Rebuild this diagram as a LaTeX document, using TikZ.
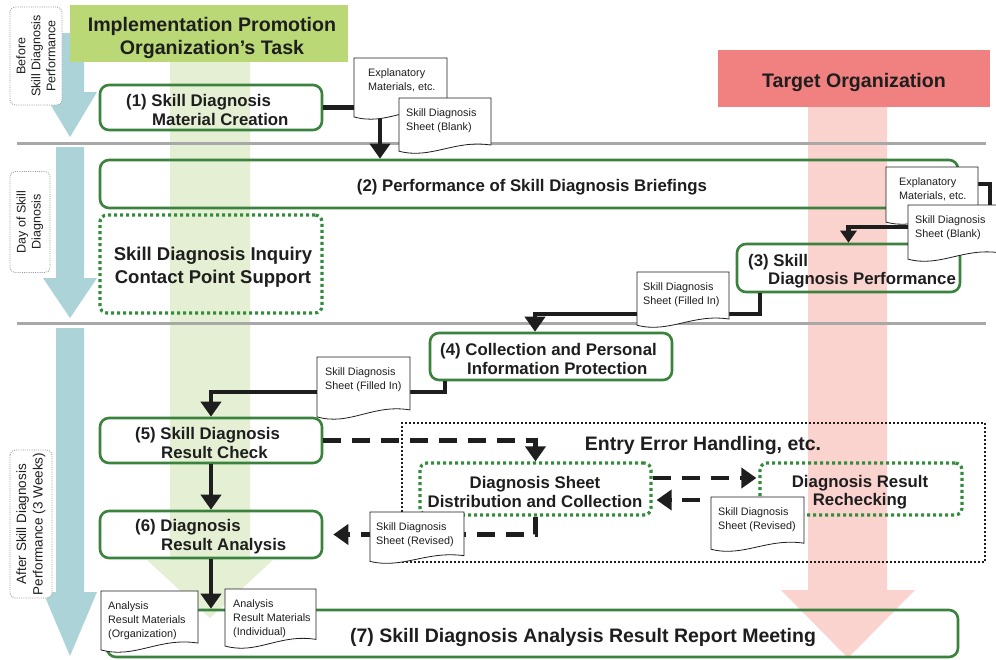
\documentclass[tikz,border=0pt]{standalone}
\usepackage{fontspec}
\setmainfont{Liberation Sans}
\usetikzlibrary{arrows.meta}

\definecolor{ink}{RGB}{30,30,30}
\definecolor{boxgreen}{RGB}{58,130,62}
\definecolor{dotgreen}{RGB}{50,140,60}
\definecolor{hdrgreen}{RGB}{186,216,118}
\definecolor{colgreen}{RGB}{229,239,211}
\definecolor{hdrred}{RGB}{241,128,128}
\definecolor{colpink}{RGB}{250,210,206}
\definecolor{phaseblue}{RGB}{172,212,216}
\definecolor{sepgray}{RGB}{168,168,168}

\newcommand\boxfont{\fontsize{16.8}{18.5}\selectfont\bfseries}
\newcommand\bigfont{\fontsize{19.5}{22}\selectfont\bfseries}

% paper sheet with a wavy lower edge: name, left, top, width, height, text inset, text
\newcommand\docsheet[7]{%
  \begin{scope}[shift={(#2,#3)}]
    \filldraw[sheet] (0,0) -- (#4,0) -- (#4,0.84*#5)
      .. controls (0.6*#4,0.74*#5) and (0.35*#4,1.1*#5) .. (0,0.95*#5) -- cycle;
    \node[sheettext] (#1) at (#6,10) {#7};
  \end{scope}}

\begin{document}
\begin{tikzpicture}[x=1pt,y=-1pt,
  every node/.style={text=ink},
  stage/.style={draw=boxgreen, line width=2.6pt, rounded corners=9pt, inner sep=0pt},
  support/.style={draw=dotgreen, line width=3.2pt, dash pattern=on 3pt off 3pt, rounded corners=7pt, inner sep=0pt},
  groupbox/.style={draw=ink, line width=2pt, dash pattern=on 2pt off 2pt, inner sep=0pt},
  phase/.style={draw=gray!80, line width=0.8pt, dash pattern=on 1pt off 1.2pt, rounded corners=5pt,
    fill=white, align=center, inner sep=0pt, font=\fontsize{12.5}{15}\selectfont},
  stagetext/.style={inner sep=0pt, align=left, font=\boxfont},
  flow/.style={line width=4.5pt, draw=ink, -{Triangle[width=20pt,length=15pt]}},
  dflow/.style={flow, dash pattern=on 18pt off 11pt},
  sheet/.style={draw=ink, line width=0.8pt, fill=white},
  sheettext/.style={anchor=north west, inner sep=0pt, align=left, font=\fontsize{10.8}{14}\selectfont},
  sepline/.style={draw=sepgray, line width=3pt},
  hdrtext/.style={inner sep=0pt, align=center, font=\fontsize{19.6}{23}\selectfont\bfseries}
]
\useasboundingbox (0,0) rectangle (996,659);
\fill[white] (0,0) rectangle (996,659);

% organisation columns
\fill[colgreen] (170,62) -- (250,62) -- (250,560) -- (273,560) -- (210,618) -- (147,560) -- (170,560) -- cycle;
\fill[colpink] (808,107) -- (887,107) -- (887,590) -- (915,590) -- (848,658) -- (781,590) -- (808,590) -- cycle;

% phase arrows
\fill[phaseblue] (56,33) -- (84,33) -- (84,92) -- (97,92) -- (70,137) -- (43,92) -- (56,92) -- cycle;
\fill[phaseblue] (56,147) -- (84,147) -- (84,278) -- (97,278) -- (70,318) -- (43,278) -- (56,278) -- cycle;
\fill[phaseblue] (56,328) -- (84,328) -- (84,592) -- (97,592) -- (70,656) -- (43,592) -- (56,592) -- cycle;

% phase separators
\draw[sepline] (17,143) -- (986,143);
\draw[sepline] (17,323) -- (986,323);

% headers
\node[fill=hdrgreen, minimum width=278pt, minimum height=57pt, inner sep=0pt] (hdr1) at (209,33.5) {};
\node[hdrtext] (hdr1t) at (212,38) {Implementation Promotion\\Organization’s Task};
\node[fill=hdrred, minimum width=272pt, minimum height=57pt, inner sep=0pt] (hdr2) at (854,78.5) {};
\node[hdrtext] (hdr2t) at (854,82) {Target Organization};

% phase labels
\node[phase, minimum width=98pt, minimum height=52pt, rotate=90] (ph1) at (36,56) {Before\\Skill Diagnosis\\Performance};
\node[phase, minimum width=101pt, minimum height=40pt, rotate=90] (ph2) at (30,222) {Day of Skill\\Diagnosis};
\node[phase, minimum width=148pt, minimum height=42pt, rotate=90, font=\fontsize{13.5}{16.5}\selectfont] (ph3) at (31,524) {After Skill Diagnosis\\Performance (3 Weeks)};

% stage boxes
\node[stage, minimum width=222pt, minimum height=45pt] (s1) at (211,107.5) {};
\node[stage, minimum width=858pt, minimum height=48pt] (s2) at (529,184) {};
\node[support, minimum width=222pt, minimum height=98pt] (inq) at (211,264) {};
\node[stage, minimum width=223pt, minimum height=48pt] (s3) at (848.5,268) {};
\node[stage, minimum width=242pt, minimum height=47pt] (s4) at (551,356.5) {};
\node[stage, minimum width=222pt, minimum height=45pt] (s5) at (211,440.5) {};
\node[stage, minimum width=222pt, minimum height=47pt] (s6) at (211,534.5) {};
\node[stage, minimum width=851pt, minimum height=47pt] (s7) at (532.5,633.5) {};
\node[groupbox, minimum width=583pt, minimum height=139pt] (grp) at (693.5,492.5) {};
\node[support, minimum width=231pt, minimum height=52pt] (dist) at (535.5,489) {};
\node[support, minimum width=202pt, minimum height=52pt] (rech) at (861,489) {};

% turning points of the connectors
\coordinate (drop1) at (380,0);
\coordinate (turn2) at (990,227);
\coordinate (turn3) at (760,314);
\coordinate (drop4) at (535,0);
\coordinate (turn4) at (445,392);

% solid flow
\draw[flow] (s1.east) -| (s2.north -| drop1);
\draw[flow, -{Triangle[width=16pt,length=12pt]}] (s2.east) -| (turn2) -| (s3.north);
\draw[flow] (s3.south -| turn3) -- (turn3) -| (s4.north -| drop4);
\draw[flow] (s4.south -| turn4) -- (turn4) -| (s5.north);
\draw[flow] (s5.south) -- (s6.north);
\draw[flow] (s6.south) -- (s7.north -| s6.south);

% correction loop
\draw[dflow] (s5.east) -| (dist.north);
\draw[dflow, shorten >=2pt] ([yshift=11pt]dist.east) -- ([yshift=11pt]dist.east -| rech.west);
\draw[dflow, shorten >=4pt] ([yshift=-11pt]rech.west) -- ([yshift=-11pt]rech.west -| dist.east);
\draw[dflow, shorten >=10pt] (dist.south) |- (s6.east);

% sheets handed over
\docsheet{d1}{354}{58}{93}{62}{14}{Explanatory\\Materials, etc.}
\docsheet{d2}{399}{98}{92}{56}{7}{Skill Diagnosis\\Sheet (Blank)}
\docsheet{d3}{886}{167}{92}{58}{13}{Explanatory\\Materials, etc.}
\docsheet{d4}{908}{205}{92}{57}{7}{Skill Diagnosis\\Sheet (Blank)}
\docsheet{d5}{637}{272}{92}{56}{6}{Skill Diagnosis\\Sheet (Filled In)}
\docsheet{d6}{317}{357}{93}{63}{8}{Skill Diagnosis\\Sheet (Filled In)}
\docsheet{d7}{711}{497}{93}{55}{7}{Skill Diagnosis\\Sheet (Revised)}
\docsheet{d8}{370}{512}{94}{52}{6}{Skill Diagnosis\\Sheet (Revised)}
\docsheet{d9}{101}{591}{97}{62}{7}{Analysis\\Result Materials\\(Organization)}
\docsheet{d10}{225}{589}{91}{60}{8}{Analysis\\Result Materials\\(Individual)}

% stage texts
\node[stagetext, anchor=west] (t1) at (126,110) {(1) Skill Diagnosis\\\hspace*{26pt}Material Creation};
\node[stagetext] (t2) at (532,187) {(2) Performance of Skill Diagnosis Briefings};
\node[stagetext, align=center, font=\fontsize{18.5}{22.5}\selectfont\bfseries] (tinq) at (213,267) {Skill Diagnosis Inquiry\\Contact Point Support};
\node[stagetext, anchor=west] (t3) at (748,271) {(3) Skill\\\hspace*{20pt}Diagnosis Performance};
\node[stagetext, anchor=west] (t4) at (440,359) {(4) Collection and Personal\\\hspace*{27pt}Information Protection};
\node[stagetext, anchor=west] (t5) at (135,443) {(5) Skill Diagnosis\\\hspace*{26pt}Result Check};
\node[stagetext, anchor=west] (t6) at (135,536.5) {(6) Diagnosis\\\hspace*{26pt}Result Analysis};
\node[stagetext, font=\bigfont] (tgrp) at (703,445) {Entry Error Handling, etc.};
\node[stagetext, align=center] (tdist) at (535,492) {Diagnosis Sheet\\Distribution and Collection};
\node[stagetext, align=center] (trech) at (860,492) {Diagnosis Result\\Rechecking};
\node[stagetext, font=\bigfont] (t7) at (583,637) {(7) Skill Diagnosis Analysis Result Report Meeting};
\end{tikzpicture}
\end{document}
